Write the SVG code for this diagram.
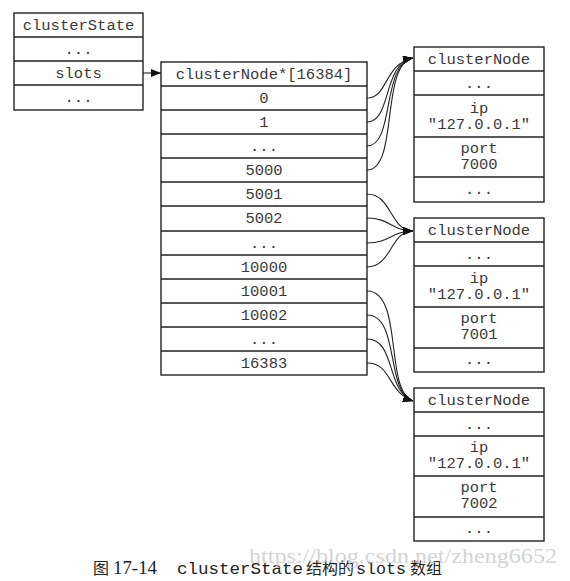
<svg xmlns="http://www.w3.org/2000/svg" width="570" height="581" viewBox="0 0 570 581">
<style>
  .box { fill: #ffffff; stroke: #222; stroke-width: 1.4; }
  .sep { stroke: #222; stroke-width: 1.4; }
  .t { font-family: "Liberation Mono", "DejaVu Sans Mono", monospace; font-size: 15.5px; fill: #3a3a3a; text-anchor: middle; }
  .conn { fill: none; stroke: #222; stroke-width: 1.1; }
  .cjk { font-family: "Noto Sans CJK SC", "Noto Sans CJK JP", sans-serif; font-size: 16px; fill: #222; }
  .mono { font-family: "Liberation Mono", monospace; font-size: 17px; fill: #222; }
  .num { font-family: "Liberation Serif", serif; font-size: 18px; fill: #222; }
  .wm { font-family: "Liberation Serif", serif; font-size: 21px; fill: #c8c8c8; fill-opacity: 0.8; }
</style>
<defs>
  <marker id="arr" viewBox="0 0 10 8" refX="10" refY="4" markerWidth="10" markerHeight="8" markerUnits="userSpaceOnUse" orient="auto">
    <path d="M0,0 L10,4 L0,8 Z" fill="#111"/>
  </marker>
</defs>
<rect width="570" height="581" fill="#ffffff"/>

<g id="clusterState">
  <rect class="box" x="14" y="13" width="129" height="97"/>
  <line class="sep" x1="14" y1="37" x2="143" y2="37"/>
  <line class="sep" x1="14" y1="61" x2="143" y2="61"/>
  <line class="sep" x1="14" y1="85" x2="143" y2="85"/>
  <text class="t" x="78.5" y="30">clusterState</text>
  <text class="t" x="78.5" y="54">...</text>
  <text class="t" x="78.5" y="78">slots</text>
  <text class="t" x="78.5" y="102">...</text>
</g>

<g id="slotsArray">
  <rect class="box" x="161" y="62" width="206" height="313"/>
  <line class="sep" x1="161" y1="86" x2="367" y2="86"/>
  <line class="sep" x1="161" y1="110" x2="367" y2="110"/>
  <line class="sep" x1="161" y1="134" x2="367" y2="134"/>
  <line class="sep" x1="161" y1="158" x2="367" y2="158"/>
  <line class="sep" x1="161" y1="182" x2="367" y2="182"/>
  <line class="sep" x1="161" y1="206" x2="367" y2="206"/>
  <line class="sep" x1="161" y1="231" x2="367" y2="231"/>
  <line class="sep" x1="161" y1="255" x2="367" y2="255"/>
  <line class="sep" x1="161" y1="279" x2="367" y2="279"/>
  <line class="sep" x1="161" y1="303" x2="367" y2="303"/>
  <line class="sep" x1="161" y1="327" x2="367" y2="327"/>
  <line class="sep" x1="161" y1="351" x2="367" y2="351"/>
  <text class="t" x="264" y="79">clusterNode*[16384]</text>
  <text class="t" x="264" y="103">0</text>
  <text class="t" x="264" y="127">1</text>
  <text class="t" x="264" y="151">...</text>
  <text class="t" x="264" y="175">5000</text>
  <text class="t" x="264" y="199">5001</text>
  <text class="t" x="264" y="223">5002</text>
  <text class="t" x="264" y="248">...</text>
  <text class="t" x="264" y="272">10000</text>
  <text class="t" x="264" y="296">10001</text>
  <text class="t" x="264" y="320">10002</text>
  <text class="t" x="264" y="344">...</text>
  <text class="t" x="264" y="368">16383</text>
</g>

<g id="node7000">
  <rect class="box" x="414" y="47" width="130" height="155"/>
  <line class="sep" x1="414" y1="71" x2="544" y2="71"/>
  <line class="sep" x1="414" y1="95" x2="544" y2="95"/>
  <line class="sep" x1="414" y1="137" x2="544" y2="137"/>
  <line class="sep" x1="414" y1="177" x2="544" y2="177"/>
  <text class="t" x="479" y="64">clusterNode</text>
  <text class="t" x="479" y="88">...</text>
  <text class="t" x="479" y="113">ip</text>
  <text class="t" x="479" y="129">"127.0.0.1"</text>
  <text class="t" x="479" y="153">port</text>
  <text class="t" x="479" y="169">7000</text>
  <text class="t" x="479" y="194">...</text>
</g>

<g id="node7001">
  <rect class="box" x="414" y="218" width="130" height="154"/>
  <line class="sep" x1="414" y1="242" x2="544" y2="242"/>
  <line class="sep" x1="414" y1="266" x2="544" y2="266"/>
  <line class="sep" x1="414" y1="307" x2="544" y2="307"/>
  <line class="sep" x1="414" y1="348" x2="544" y2="348"/>
  <text class="t" x="479" y="235">clusterNode</text>
  <text class="t" x="479" y="259">...</text>
  <text class="t" x="479" y="283">ip</text>
  <text class="t" x="479" y="299">"127.0.0.1"</text>
  <text class="t" x="479" y="323">port</text>
  <text class="t" x="479" y="339">7001</text>
  <text class="t" x="479" y="364">...</text>
</g>

<g id="node7002">
  <rect class="box" x="414" y="388" width="130" height="153"/>
  <line class="sep" x1="414" y1="412" x2="544" y2="412"/>
  <line class="sep" x1="414" y1="436" x2="544" y2="436"/>
  <line class="sep" x1="414" y1="476" x2="544" y2="476"/>
  <line class="sep" x1="414" y1="517" x2="544" y2="517"/>
  <text class="t" x="479" y="405">clusterNode</text>
  <text class="t" x="479" y="429">...</text>
  <text class="t" x="479" y="452">ip</text>
  <text class="t" x="479" y="468">"127.0.0.1"</text>
  <text class="t" x="479" y="492">port</text>
  <text class="t" x="479" y="508">7002</text>
  <text class="t" x="479" y="533">...</text>
</g>

<g id="connectors">
  <line class="conn" x1="143" y1="73" x2="161" y2="73" marker-end="url(#arr)"/>
  <path class="conn" d="M367,98 C388,98 384,64 413,58" marker-end="url(#arr)"/>
  <path class="conn" d="M367,122 C392,122 382,64 413,58" marker-end="url(#arr)"/>
  <path class="conn" d="M367,146 C395,146 381,64 413,58" marker-end="url(#arr)"/>
  <path class="conn" d="M367,170 C399,170 380,64 413,58" marker-end="url(#arr)"/>
  <path class="conn" d="M367,194 C392,194 390,231 413,231" marker-end="url(#arr)"/>
  <path class="conn" d="M367,218 C390,218 392,231 413,231" marker-end="url(#arr)"/>
  <path class="conn" d="M367,243 C390,243 392,231 413,231" marker-end="url(#arr)"/>
  <path class="conn" d="M367,267 C392,267 390,231 413,231" marker-end="url(#arr)"/>
  <path class="conn" d="M367,291 C404,291 384,392 413,401" marker-end="url(#arr)"/>
  <path class="conn" d="M367,315 C400,315 385,392 413,401" marker-end="url(#arr)"/>
  <path class="conn" d="M367,339 C396,339 386,392 413,401" marker-end="url(#arr)"/>
  <path class="conn" d="M367,363 C392,363 387,392 413,401" marker-end="url(#arr)"/>
</g>

<g id="caption">
  <text class="cjk" x="93" y="574">图</text>
  <text class="num" x="113" y="574" textLength="44" lengthAdjust="spacingAndGlyphs">17-14</text>
  <text class="mono" x="177" y="574" textLength="126" lengthAdjust="spacingAndGlyphs">clusterState</text>
  <text class="cjk" x="306" y="574">结构的</text>
  <text class="mono" x="356" y="574" textLength="50" lengthAdjust="spacingAndGlyphs">slots</text>
  <text class="cjk" x="410" y="574">数组</text>
  <text class="wm" x="249" y="563" textLength="308" lengthAdjust="spacingAndGlyphs">https://blog.csdn.net/zheng6652</text>
</g>
</svg>
